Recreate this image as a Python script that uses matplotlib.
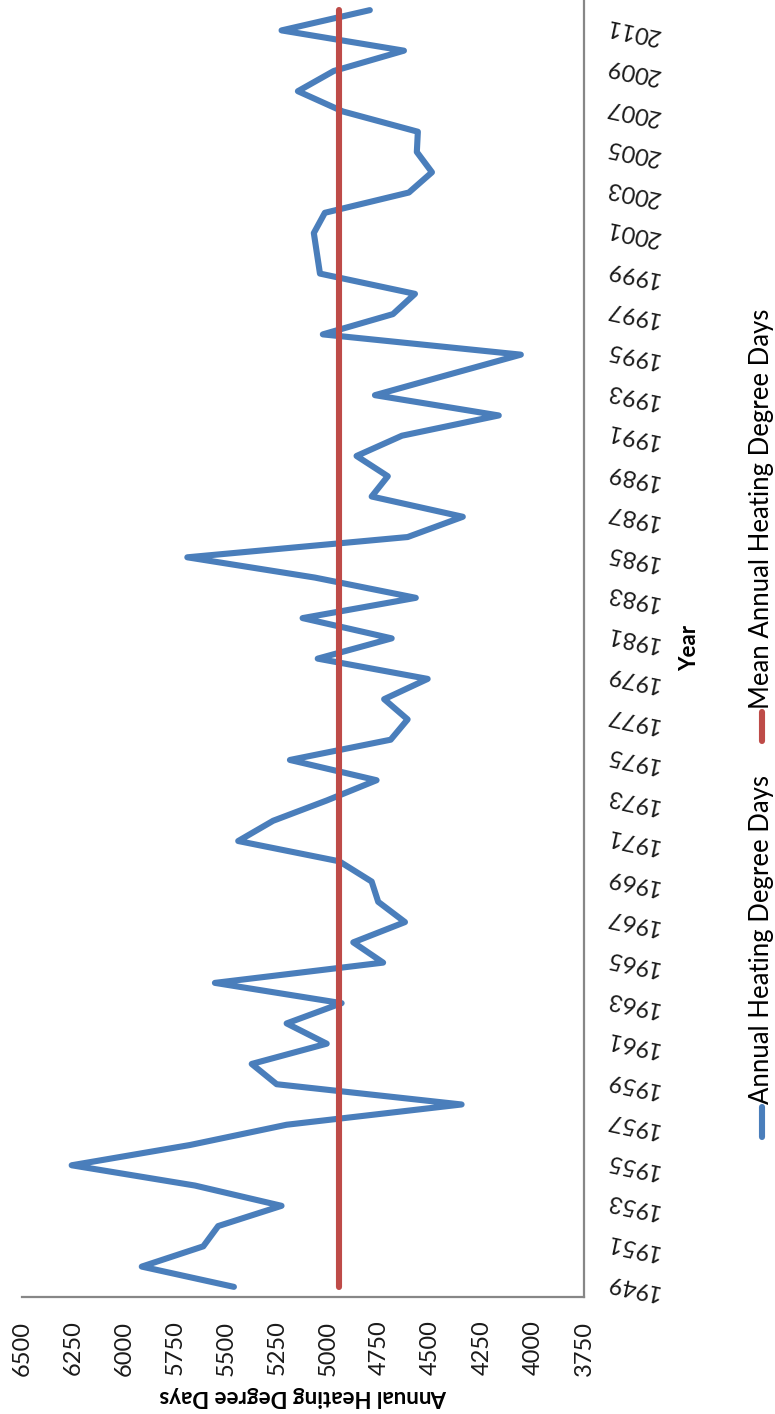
import numpy as np
import matplotlib
matplotlib.use('Agg')
import matplotlib.pyplot as plt
from matplotlib.lines import Line2D

plt.rcParams['font.family'] = ['Lato', 'DejaVu Sans']

# Annual heating degree days, 1949-2012
years = list(range(1949, 2013))
hdd = [5463, 5914, 5613, 5540, 5230, 5654, 6257, 5678, 5205, 4349,
       5254, 5376, 5009, 5205, 4936, 5556, 4733, 4879, 4626, 4757,
       4789, 4948, 5442, 5271, 5009, 4765, 5189, 4696, 4613, 4728,
       4515, 5053, 4691, 5127, 4573, 5067, 5691, 4613, 4343, 4789,
       4710, 4863, 4641, 4167, 4773, 4417, 4059, 5028, 4685, 4577,
       5042, 5057, 5072, 5018, 4607, 4494, 4568, 4563, 4930, 5150,
       4974, 4631, 5230, 4798]
mean_hdd = 4950

year_ticks = list(range(1949, 2012, 2))
value_ticks = list(range(3750, 6501, 250))

W, H = 775, 1414
fig = plt.figure(figsize=(W / 100, H / 100), dpi=100)

def fx(px):
    return px / W

def fy(py):
    return 1 - py / H

# chart is drawn turned a quarter turn: years run up the right side
ax = fig.add_axes([fx(22), fy(1297), fx(584) - fx(22), fy(0) - fy(1297)])

ax.plot(hdd, years, color='#4a7ebb', lw=4.4, solid_joinstyle='round',
        solid_capstyle='round', zorder=2)
ax.plot([mean_hdd] * len(years), years, color='#be4b48', lw=4.4,
        solid_capstyle='round', zorder=3)

ax.set_xlim(6500, 3750)
ax.set_ylim(1948.5, 2012.5)

ax.set_xticks(value_ticks)
ax.set_xticklabels([str(v) for v in value_ticks], rotation=90, fontsize=17)
ax.yaxis.tick_right()
ax.set_yticks(year_ticks)
ax.set_yticklabels([str(y) for y in year_ticks], rotation=168, fontsize=17,
                   ha='left', va='center')
ax.tick_params(axis='x', length=0, pad=17, colors='#1a1a1a')
ax.tick_params(axis='y', length=0, pad=14, colors='#1a1a1a')

for side in ['top', 'left']:
    ax.spines[side].set_visible(False)
for side in ['bottom', 'right']:
    ax.spines[side].set_color('#878787')
    ax.spines[side].set_linewidth(1.6)

# axis titles
fig.text(fx(303), fy(1397), 'Annual Heating Degree Days', rotation=180,
         fontsize=16, fontweight='bold', ha='center', va='center')
fig.text(fx(690), fy(648), 'Year', rotation=90, fontsize=16,
         fontweight='bold', ha='center', va='center')

# legend, turned like the rest
fig.add_artist(Line2D([fx(762), fx(762)], [fy(1137), fy(1107)],
                      color='#4a7ebb', lw=4.4, solid_capstyle='round'))
fig.text(fx(762), fy(1104), 'Annual Heating Degree Days', rotation=90,
         fontsize=18.5, ha='center', va='bottom')
fig.add_artist(Line2D([fx(762), fx(762)], [fy(741), fy(712)],
                      color='#be4b48', lw=4.4, solid_capstyle='round'))
fig.text(fx(762), fy(709), 'Mean Annual Heating Degree Days', rotation=90,
         fontsize=18.5, ha='center', va='bottom')

fig.savefig('out.png', dpi=100)
